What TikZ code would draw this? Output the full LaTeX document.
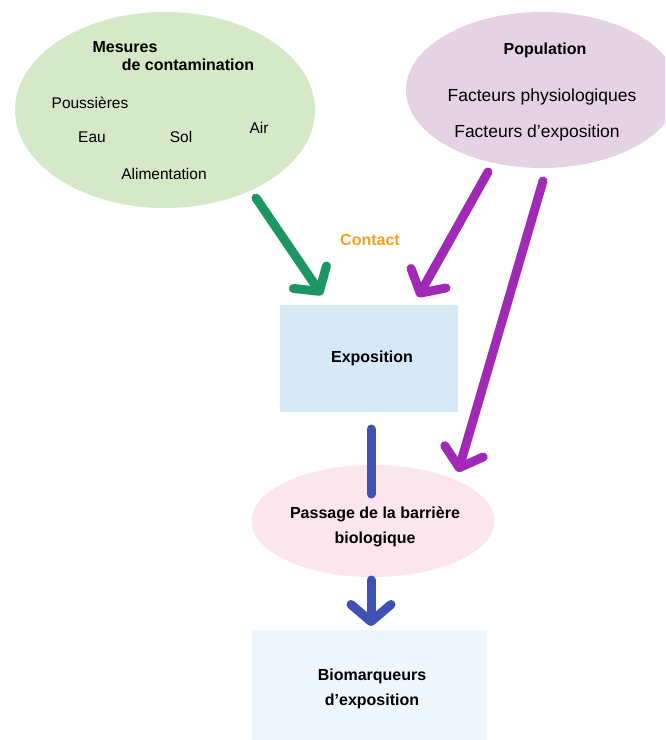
\documentclass[tikz,border=0pt]{standalone}
\usepackage{fontspec}
\setmainfont{Liberation Sans}
\usetikzlibrary{arrows.meta,shapes.geometric}
\definecolor{mesfill}{HTML}{D5E8C8}
\definecolor{popfill}{HTML}{E5D3E5}
\definecolor{expfill}{HTML}{D7E9F7}
\definecolor{barfill}{HTML}{FCE6EE}
\definecolor{biofill}{HTML}{EEF7FD}
\definecolor{vert}{HTML}{1E9664}
\definecolor{violet}{HTML}{A02AB6}
\definecolor{indigo}{HTML}{3F51B5}
\definecolor{orange}{HTML}{F7A020}

\begin{document}
\begin{tikzpicture}[x=1pt,y=-1pt,>={Straight Barb[length=17pt,width=40pt,round]}]
        \tikzstyle{blob}=[ellipse,inner sep=0pt]
        \tikzstyle{box}=[rectangle,inner sep=0pt]
        \tikzstyle{small}=[font=\fontsize{15.5}{18}\selectfont]
        \tikzstyle{title}=[font=\fontsize{16}{25}\selectfont\bfseries,align=center]
        \tikzstyle{item}=[font=\fontsize{17.5}{20}\selectfont]
        \tikzstyle{fleche}=[->,line width=9pt,line cap=round]

        \useasboundingbox (0,0) rectangle (665,740);
        \clip (0,0) rectangle (665,740);

        % les deux sources
        \node [blob,fill=mesfill,minimum width=300pt,minimum height=196pt] (mes) at (165,110) {};
        \node [blob,fill=popfill,minimum width=272pt,minimum height=156pt] (pop) at (542,90) {};
        \node [title] (mes1) at (125,47) {Mesures};
        \node [title] (mes2) at (188,65) {de contamination};
        \node [small] (pous) at (90,103) {Poussières};
        \node [small] (eau) at (92,137) {Eau};
        \node [small] (sol) at (181,137) {Sol};
        \node [small] (air) at (259,128) {Air};
        \node [small] (alim) at (164,174) {Alimentation};
        \node [title] (popt) at (545,50) {Population};
        \node [item] (physio) at (542,97) {Facteurs physiologiques};
        \node [item] (fexpo) at (537,133) {Facteurs d’exposition};

        % la chaine centrale
        \node [box,fill=expfill,minimum width=178pt,minimum height=107pt] (expo) at (369,358) {};
        \node [title] (expot) at (372,358) {Exposition};
        \node [title,text=orange] (contact) at (370,240) {Contact};
        \node [blob,fill=barfill,minimum width=243pt,minimum height=112pt] (barr) at (373,521) {};
        \node [title] (barrt) at (375,527) {Passage de la barrière\\biologique};
        \node [box,fill=biofill,minimum width=235pt,minimum height=112pt] (bio) at (369,686) {};
        \node [title] (biot) at (372,689) {Biomarqueurs\\d’exposition};

        % extremites des fleches
        \coordinate (g0) at (256,198);
        \coordinate (g1) at (322,295);
        \coordinate (p0) at (488,172);
        \coordinate (p1) at (418,297);
        \coordinate (q0) at (543,181);
        \coordinate (q1) at (458,472);
        \coordinate (b0) at (371,429);
        \coordinate (b1) at (371,494);
        \coordinate (c0) at (371,580);
        \coordinate (c1) at (371,626);

        \draw [fleche,draw=vert] (g0) -- (g1);
        \draw [fleche,draw=violet] (p0) -- (p1);
        \draw [fleche,draw=violet] (q0) -- (q1);
        \draw [line width=9pt,draw=indigo,line cap=round] (b0) -- (b1); %sans pointe
        \draw [fleche,draw=indigo,>={Straight Barb[length=17pt,width=40pt,round]}] (c0) -- (c1);
\end{tikzpicture}
\end{document}
